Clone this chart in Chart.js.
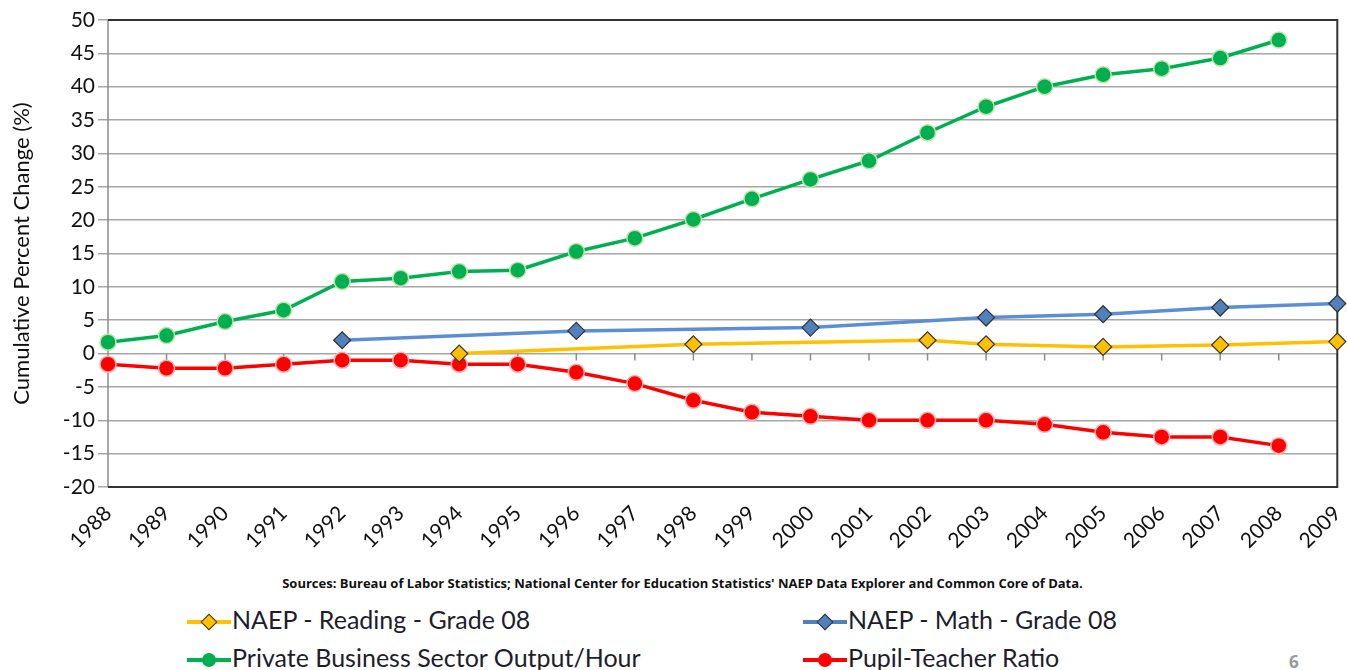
<!DOCTYPE html>
<html>
<head>
<meta charset="utf-8">
<script src="https://cdn.jsdelivr.net/npm/chart.js@4.4.1/dist/chart.umd.min.js"></script>
<style>
  body { margin: 0; background: #fff; font-family: Lato, "Open Sans", sans-serif; }
  #wrap { position: relative; width: 1347px; height: 670px; overflow: hidden; }
  #box { position: absolute; left: 0; top: 0; width: 1347px; height: 572px; }
  #fontes { position: absolute; left: 9px; top: 574px; width: 1347px; text-align: center;
            font: bold 13px "Open Sans", sans-serif; color: #111; }
  .leg { position: absolute; font-size: 25px; color: #1d1d2b; white-space: nowrap; line-height: 28px; }
  .mk { display: inline-block; position: relative; width: 44px; height: 20px; vertical-align: -3px; margin-right: 1px; }
  .ln { position: absolute; left: 0; right: 0; top: 8px; height: 4px; }
  .dia { position: absolute; left: 16px; top: 4px; width: 12px; height: 12px; transform: rotate(45deg);
         border: 1px solid #333; box-sizing: border-box; }
  .dot { position: absolute; left: 15px; top: 3px; width: 14px; height: 14px; border-radius: 50%; }
  #pag { position: absolute; left: 1289px; top: 650px; font: bold 17px "Open Sans", sans-serif; color: #999; }
</style>
</head>
<body>
<div id="wrap">
  <div id="box"><canvas id="grafico"></canvas></div>
  <div id="fontes">Sources: Bureau of Labor Statistics; National Center for Education Statistics' NAEP Data Explorer and Common Core of Data.</div>

  <div class="leg" style="left:187px; top:605px;"><span class="mk"><i class="ln" style="background:#FFC000"></i><i class="dia" style="background:#FFC000"></i></span>NAEP - Reading - Grade 08</div>
  <div class="leg" style="left:803px; top:605px;"><span class="mk"><i class="ln" style="background:#4F81BD"></i><i class="dia" style="background:#4F81BD"></i></span>NAEP - Math - Grade 08</div>
  <div class="leg" style="left:187px; top:643px;"><span class="mk"><i class="ln" style="background:#00B050"></i><i class="dot" style="background:#00B050"></i></span>Private Business Sector Output/Hour</div>
  <div class="leg" style="left:803px; top:643px;"><span class="mk"><i class="ln" style="background:#FF0000"></i><i class="dot" style="background:#FF0000"></i></span>Pupil-Teacher Ratio</div>
  <div id="pag">6</div>
</div>

<script>
// dados
const anos = ["1988","1989","1990","1991","1992","1993","1994","1995","1996","1997","1998",
              "1999","2000","2001","2002","2003","2004","2005","2006","2007","2008","2009"];

const leitura = [null,null,null,null,null,null,0,null,null,null,1.4,
                 null,null,null,2.0,1.4,null,1.0,null,1.3,null,1.8];

const matematica = [null,null,null,null,2.0,null,null,null,3.4,null,null,
                    null,3.9,null,null,5.4,null,5.9,null,6.9,null,7.5];

const produtividade = [1.7,2.7,4.8,6.5,10.8,11.3,12.3,12.5,15.3,17.3,20.1,
                       23.2,26.1,28.9,33.1,37.0,40.0,41.8,42.7,44.3,47.0,null];

const alunoProfessor = [-1.6,-2.2,-2.2,-1.6,-1.0,-1.0,-1.6,-1.6,-2.8,-4.5,-7.0,
                        -8.8,-9.4,-10.0,-10.0,-10.0,-10.6,-11.8,-12.5,-12.5,-13.8,null];

// moldura e marcas no eixo zero
const moldura = {
  id: 'moldura',
  beforeDatasetsDraw(chart) {
    const { ctx, chartArea: a, scales } = chart;
    const y0 = scales.y.getPixelForValue(0);
    ctx.save();
    ctx.strokeStyle = '#8c8c8c';
    ctx.lineWidth = 1.5;
    ctx.beginPath();
    ctx.moveTo(a.left, a.top); ctx.lineTo(a.left, a.bottom);
    anos.forEach((_, i) => {
      const x = scales.x.getPixelForValue(i);
      ctx.moveTo(x, y0); ctx.lineTo(x, y0 + 7);
    });
    ctx.stroke();
    ctx.strokeStyle = '#333';
    ctx.lineWidth = 2;
    ctx.beginPath();
    ctx.moveTo(a.left, a.top); ctx.lineTo(a.right, a.top);
    ctx.lineTo(a.right, a.bottom); ctx.lineTo(a.left, a.bottom);
    ctx.stroke();
    ctx.restore();
  }
};

const ctx = document.getElementById("grafico").getContext("2d");

new Chart(ctx, {
  type: 'line',
  data: {
    labels: anos,
    datasets: [
      {
        label: 'NAEP - Reading - Grade 08',
        data: leitura,
        borderColor: '#FFC000',
        backgroundColor: '#FFC000',
        pointBorderColor: '#333',
        pointStyle: 'rectRot',
        pointRadius: 8.5,
        pointBorderWidth: 1.2,
        spanGaps: true
      },
      {
        label: 'NAEP - Math - Grade 08',
        data: matematica,
        borderColor: '#5B8ED4',
        backgroundColor: '#4F81BD',
        pointBorderColor: '#333',
        pointStyle: 'rectRot',
        pointRadius: 8.5,
        pointBorderWidth: 1.2,
        spanGaps: true
      },
      {
        label: 'Private Business Sector Output/Hour',
        data: produtividade,
        borderColor: '#00B050',
        backgroundColor: '#00B050',
        pointBorderColor: '#BFE3A8',
        pointRadius: 8,
        pointBorderWidth: 1.5
      },
      {
        label: 'Pupil-Teacher Ratio',
        data: alunoProfessor,
        borderColor: '#FF0000',
        backgroundColor: '#FF0000',
        pointBorderColor: '#FFB0B0',
        pointRadius: 8,
        pointBorderWidth: 1.5
      }
    ]
  },
  options: {
    responsive: true,
    maintainAspectRatio: false,
    animation: false,
    elements: { line: { borderWidth: 3.5, tension: 0 } },
    layout: { padding: { top: 20, right: 0, left: 0, bottom: 0 } },
    plugins: {
      legend: { display: false },
      tooltip: { enabled: false }
    },
    scales: {
      x: {
        offset: false,
        grid: { display: false },
        border: { display: false },
        ticks: {
          minRotation: 45, maxRotation: 45, padding: 6, autoSkip: false,
          color: '#111', font: { family: 'Lato', size: 21 }
        },
        afterFit(scale) { scale.height = 85; scale.paddingRight = 0; }
      },
      y: {
        min: -20, max: 50,
        grid: { color: '#a6a6a6', lineWidth: 1.5, tickLength: 10 },
        border: { display: false },
        ticks: {
          stepSize: 5, padding: 3,
          color: '#111', font: { family: 'Lato', size: 21 }
        },
        title: {
          display: true,
          text: 'Cumulative Percent Change (%)',
          color: '#111',
          font: { family: 'Lato', size: 22 },
          padding: { top: 9, bottom: 0 }
        },
        afterFit(scale) { scale.width = 108; }
      }
    }
  },
  plugins: [moldura]
});
</script>
</body>
</html>
